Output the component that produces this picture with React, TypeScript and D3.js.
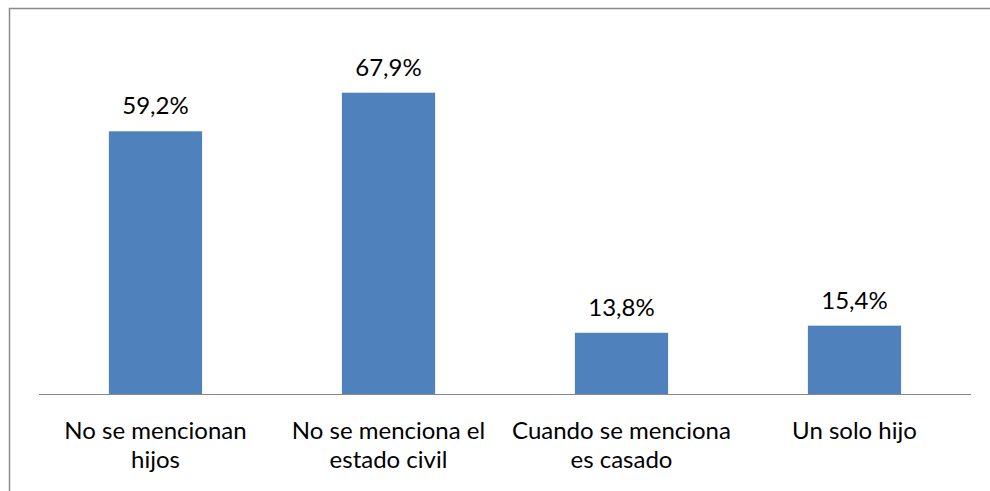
import React from "react";
import * as d3 from "d3";

const categories: string[][] = [
  ["No se mencionan", "hijos"],
  ["No se menciona el", "estado civil"],
  ["Cuando se menciona", "es casado"],
  ["Un solo hijo"],
];
const values: number[] = [59.2, 67.9, 13.8, 15.4];
const valueLabels: string[] = ["59,2%", "67,9%", "13,8%", "15,4%"];

const W = 990;
const H = 491;
const FONT = "Lato, 'Open Sans', sans-serif";

export default function App() {
  const plotLeft = 39;
  const plotRight = 971;
  const baseY = 394;
  const x = d3
    .scaleBand<number>()
    .domain(values.map((_, i) => i))
    .range([plotLeft, plotRight])
    .paddingInner(0.6)
    .paddingOuter(0.3);
  const y = d3.scaleLinear().domain([0, 80]).range([baseY, 39]);

  return (
    <svg
      width={W}
      height={H}
      style={{ position: "absolute", left: 0, top: 0, display: "block" }}
    >
      <rect x={0} y={0} width={W} height={H} fill="#ffffff" />
      <rect
        x={9.5}
        y={8.5}
        width={W + 20}
        height={H + 20}
        fill="none"
        stroke="#8a8a8a"
        strokeWidth={1.5}
      />
      {values.map((v, i) => (
        <rect
          key={"b" + i}
          x={x(i)}
          y={y(v)}
          width={x.bandwidth()}
          height={baseY - y(v)}
          fill="#4f81bd"
        />
      ))}
      <line
        x1={plotLeft}
        x2={plotRight}
        y1={baseY + 0.5}
        y2={baseY + 0.5}
        stroke="#878787"
        strokeWidth={1.2}
      />
      {values.map((v, i) => (
        <text
          key={"v" + i}
          x={(x(i) as number) + x.bandwidth() / 2}
          y={y(v) - 17}
          textAnchor="middle"
          fontFamily={FONT}
          fontSize={24}
          fill="#000"
        >
          {valueLabels[i]}
        </text>
      ))}
      {categories.map((lines, i) => (
        <text
          key={"c" + i}
          textAnchor="middle"
          fontFamily={FONT}
          fontSize={24}
          fill="#000"
        >
          {lines.map((l, j) => (
            <tspan
              key={j}
              x={(x(i) as number) + x.bandwidth() / 2}
              y={439 + j * 29}
            >
              {l}
            </tspan>
          ))}
        </text>
      ))}
    </svg>
  );
}
